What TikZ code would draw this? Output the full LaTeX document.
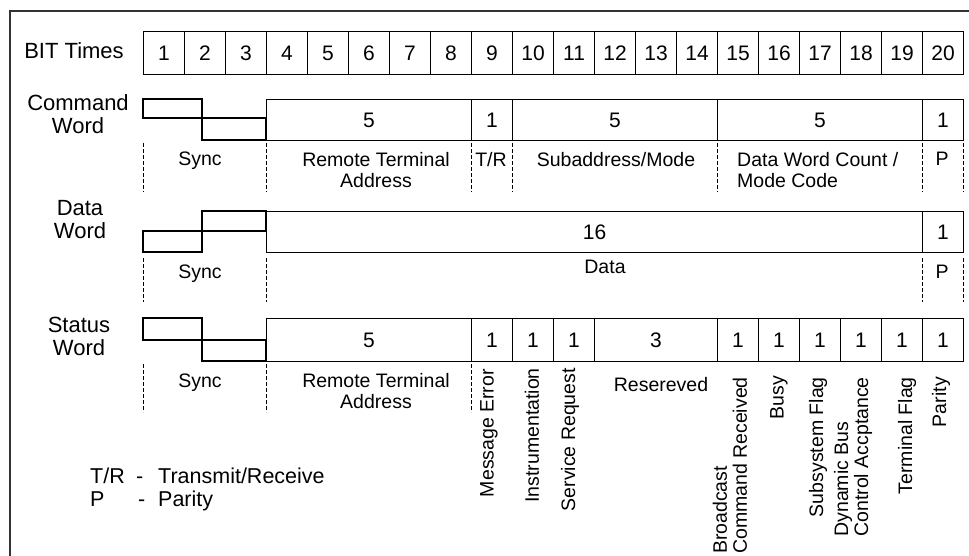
\documentclass[tikz,border=0pt]{standalone}
\usepackage{fontspec}
\setmainfont{Liberation Sans}

\begin{document}
\begin{tikzpicture}[
  x=1pt, y=-1pt,
  rowlbl/.style={font=\fontsize{22}{23}\selectfont, align=center, inner sep=0pt},
  bitcell/.style={
    draw, line width=1.1pt, rectangle, anchor=north west,
    minimum width=41pt, minimum height=43pt, inner sep=0pt,
    font=\fontsize{21}{22}\selectfont
  },
  field/.style={
    draw, line width=1.1pt, rectangle, anchor=north west,
    minimum height=41pt, inner sep=0pt,
    font=\fontsize{21}{22}\selectfont
  },
  wave/.style={line width=1.1pt},
  lbl/.style={font=\fontsize{19.5}{21}\selectfont, align=center, inner sep=0pt, anchor=north},
  vlbl/.style={font=\fontsize{19.5}{20}\selectfont, align=left, inner sep=0pt,
    rotate=90, anchor=east},
  leg/.style={font=\fontsize{21.5}{23}\selectfont, inner sep=0pt, anchor=base west},
  sep/.style={line width=0.8pt, dash pattern=on 4pt off 2pt},
]
\useasboundingbox (0,0) rectangle (969,556);

% frame
\draw[line width=1.2pt, black!80] (10,556) -- (10,11) -- (969,11);

% bit times
\node[rowlbl] (bittimes) at (74,51) {BIT Times};
\foreach \i in {1,...,20}
  \node[bitcell] (bit\i) at ({102+41*\i},31) {\i};

% command word
\node[rowlbl] (cmdlbl) at (78,114) {Command\\Word};
\draw[wave] (143,99) rectangle (202,118);
\draw[wave] (202,118) rectangle (266,140);
\foreach \a/\b/\n in {4/8/5, 9/9/1, 10/14/5, 15/19/5, 20/20/1}
  \node[field, minimum width={41pt*(\b-\a+1)}] (cmd\a) at ({102+41*\a},99) {\n};
\foreach \x in {143,266,471,512,717,922,963}
  \draw[sep] (\x,143) -- (\x,192);
\node[lbl] (csync) at (200,152) {Sync};
\node[lbl] (crta)  at (376,152) {Remote Terminal\\Address};
\node[lbl] (ctr)   at (491,152) {T/R};
\node[lbl] (csub)  at (616,152) {Subaddress/Mode};
\node[lbl, anchor=north west, align=left] (cdwc) at (737,152) {Data Word Count /\\Mode Code};
\node[lbl] (cpar)  at (942,152) {P};

% data word
\node[rowlbl] (datlbl) at (80,220) {Data\\Word};
\draw[wave] (143,231) rectangle (202,252);
\draw[wave] (202,211) rectangle (266,231);
\foreach \a/\b/\n in {4/19/16, 20/20/1}
  \node[field, minimum width={41pt*(\b-\a+1)}] (dat\a) at ({102+41*\a},211) {\n};
\foreach \x in {143,266,922,963}
  \draw[sep] (\x,258) -- (\x,302);
\node[lbl] (dsync) at (200,265) {Sync};
\node[lbl] (ddata) at (605,260) {Data};
\node[lbl] (dpar)  at (942,265) {P};

% status word
\node[rowlbl] (stalbl) at (79,336) {Status\\Word};
\draw[wave] (143,318) rectangle (202,340);
\draw[wave] (202,340) rectangle (266,361);
\foreach \a/\b/\n in {4/8/5, 9/9/1, 10/10/1, 11/11/1, 12/14/3, 15/15/1,
                      16/16/1, 17/17/1, 18/18/1, 19/19/1, 20/20/1}
  \node[field, minimum height=43pt, minimum width={41pt*(\b-\a+1)}] (sta\a) at ({102+41*\a},318) {\n};
\foreach \x in {143,266,471}
  \draw[sep] (\x,364) -- (\x,412);
\node[lbl] (ssync) at (200,374) {Sync};
\node[lbl] (srta)  at (376,373) {Remote Terminal\\Address};
\node[lbl] (sres)  at (661,377) {Resereved};
\node[vlbl] (smerr) at (489,369) {Message Error};
\node[vlbl] (sinst) at (532,368) {Instrumentation};
\node[vlbl] (ssreq) at (570,368) {Service Request};
\node[vlbl] (sbcr)  at (730,377) {Broadcast\\Command Received};
\node[vlbl] (sbusy) at (779,376) {Busy};
\node[vlbl] (ssub)  at (818,377) {Subsystem Flag};
\node[vlbl] (sdbc)  at (853,377) {Dynamic Bus\\Control Accptance};
\node[vlbl] (sterm) at (907,377) {Terminal Flag};
\node[vlbl] (spar)  at (941,377) {Parity};

% legend
\node[leg] (legtr)  at (90,483)  {T/R};
\node[leg] (legtrd) at (136,483) {-};
\node[leg] (legtrt) at (158,483) {Transmit/Receive};
\node[leg] (legp)   at (90,506)  {P};
\node[leg] (legpd)  at (138,506) {-};
\node[leg] (legpt)  at (158,506) {Parity};

\end{tikzpicture}
\end{document}
